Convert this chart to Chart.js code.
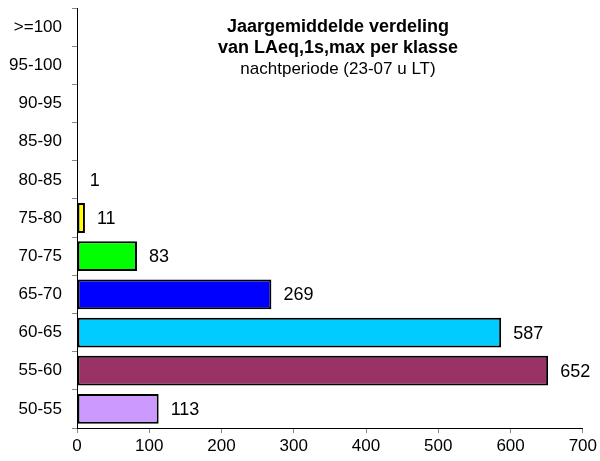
<!DOCTYPE html>
<html>
<head>
<meta charset="utf-8">
<script src="https://cdn.jsdelivr.net/npm/chart.js@4/dist/chart.umd.min.js"></script>
<style>
    html, body { margin: 0; padding: 0; background: #fff; }
    #wrap { width: 600px; height: 461px; position: relative; }
</style>
</head>
<body>
<div id="wrap"><canvas id="klasseChart"></canvas></div>
<script>
// Data
const klassen = ['>=100', '95-100', '90-95', '85-90', '80-85', '75-80', '70-75', '65-70', '60-65', '55-60', '50-55'];
const aantallen = [0, 0, 0, 0, 1, 11, 83, 269, 587, 652, 113];
const kleuren = ['#ffffff', '#ffffff', '#ffffff', '#ffffff', '#000080', '#ffff00', '#00ff00', '#0000ff', '#00ccff', '#993366', '#cc99ff'];
const titelRegels = ['Jaargemiddelde verdeling', 'van LAeq,1s,max per klasse', 'nachtperiode (23-07 u LT)'];

const FONT = 'Liberation Sans, Arial, sans-serif';

// value labels next to each bar
const waardeLabels = {
    id: 'waardeLabels',
    afterDatasetsDraw(chart) {
        const ctx = chart.ctx;
        const meta = chart.getDatasetMeta(0);
        ctx.save();
        ctx.font = '18px ' + FONT;
        ctx.fillStyle = '#000';
        ctx.textAlign = 'left';
        ctx.textBaseline = 'middle';
        meta.data.forEach((bar, i) => {
            if (aantallen[i] > 0) {
                ctx.fillText(String(aantallen[i]), bar.x + 12, bar.y + 1);
            }
        });
        ctx.restore();
    }
};

// title drawn inside the plot area
const titelTekst = {
    id: 'titelTekst',
    afterDraw(chart) {
        const ctx = chart.ctx;
        ctx.save();
        ctx.fillStyle = '#000';
        ctx.textAlign = 'center';
        ctx.textBaseline = 'middle';
        ctx.font = 'bold 18px ' + FONT;
        ctx.fillText(titelRegels[0], 338, 27);
        ctx.fillText(titelRegels[1], 338, 48);
        ctx.font = '17px ' + FONT;
        ctx.fillText(titelRegels[2], 338, 69);
        ctx.restore();
    }
};

new Chart(document.getElementById('klasseChart'), {
    type: 'bar',
    data: {
        labels: klassen,
        datasets: [{
            data: aantallen,
            backgroundColor: kleuren,
            borderColor: '#000',
            borderWidth: 2,
            borderSkipped: false,
            barPercentage: 0.78,
            categoryPercentage: 1.0
        }]
    },
    options: {
        indexAxis: 'y',
        responsive: true,
        maintainAspectRatio: false,
        animation: false,
        layout: { padding: { top: 8, right: 16, left: 0, bottom: 0 } },
        plugins: {
            legend: { display: false },
            tooltip: { enabled: false }
        },
        scales: {
            x: {
                min: 0,
                max: 700,
                ticks: { stepSize: 100, color: '#000', font: { family: FONT, size: 17 }, padding: 3 },
                grid: { drawOnChartArea: false, drawTicks: true, tickLength: 5, color: '#888' },
                border: { color: '#000', width: 1 },
                afterFit(scale) { scale.height = 33; }
            },
            y: {
                ticks: { color: '#000', font: { family: FONT, size: 17 }, padding: 10 },
                grid: { drawOnChartArea: false, drawTicks: true, tickLength: 5, color: '#888', offset: true },
                border: { color: '#000', width: 1 },
                afterFit(scale) {
                    scale.width = 77;
                    scale.paddingTop = 0;
                    scale.paddingBottom = 0;
                }
            }
        }
    },
    plugins: [waardeLabels, titelTekst]
});
</script>
</body>
</html>
